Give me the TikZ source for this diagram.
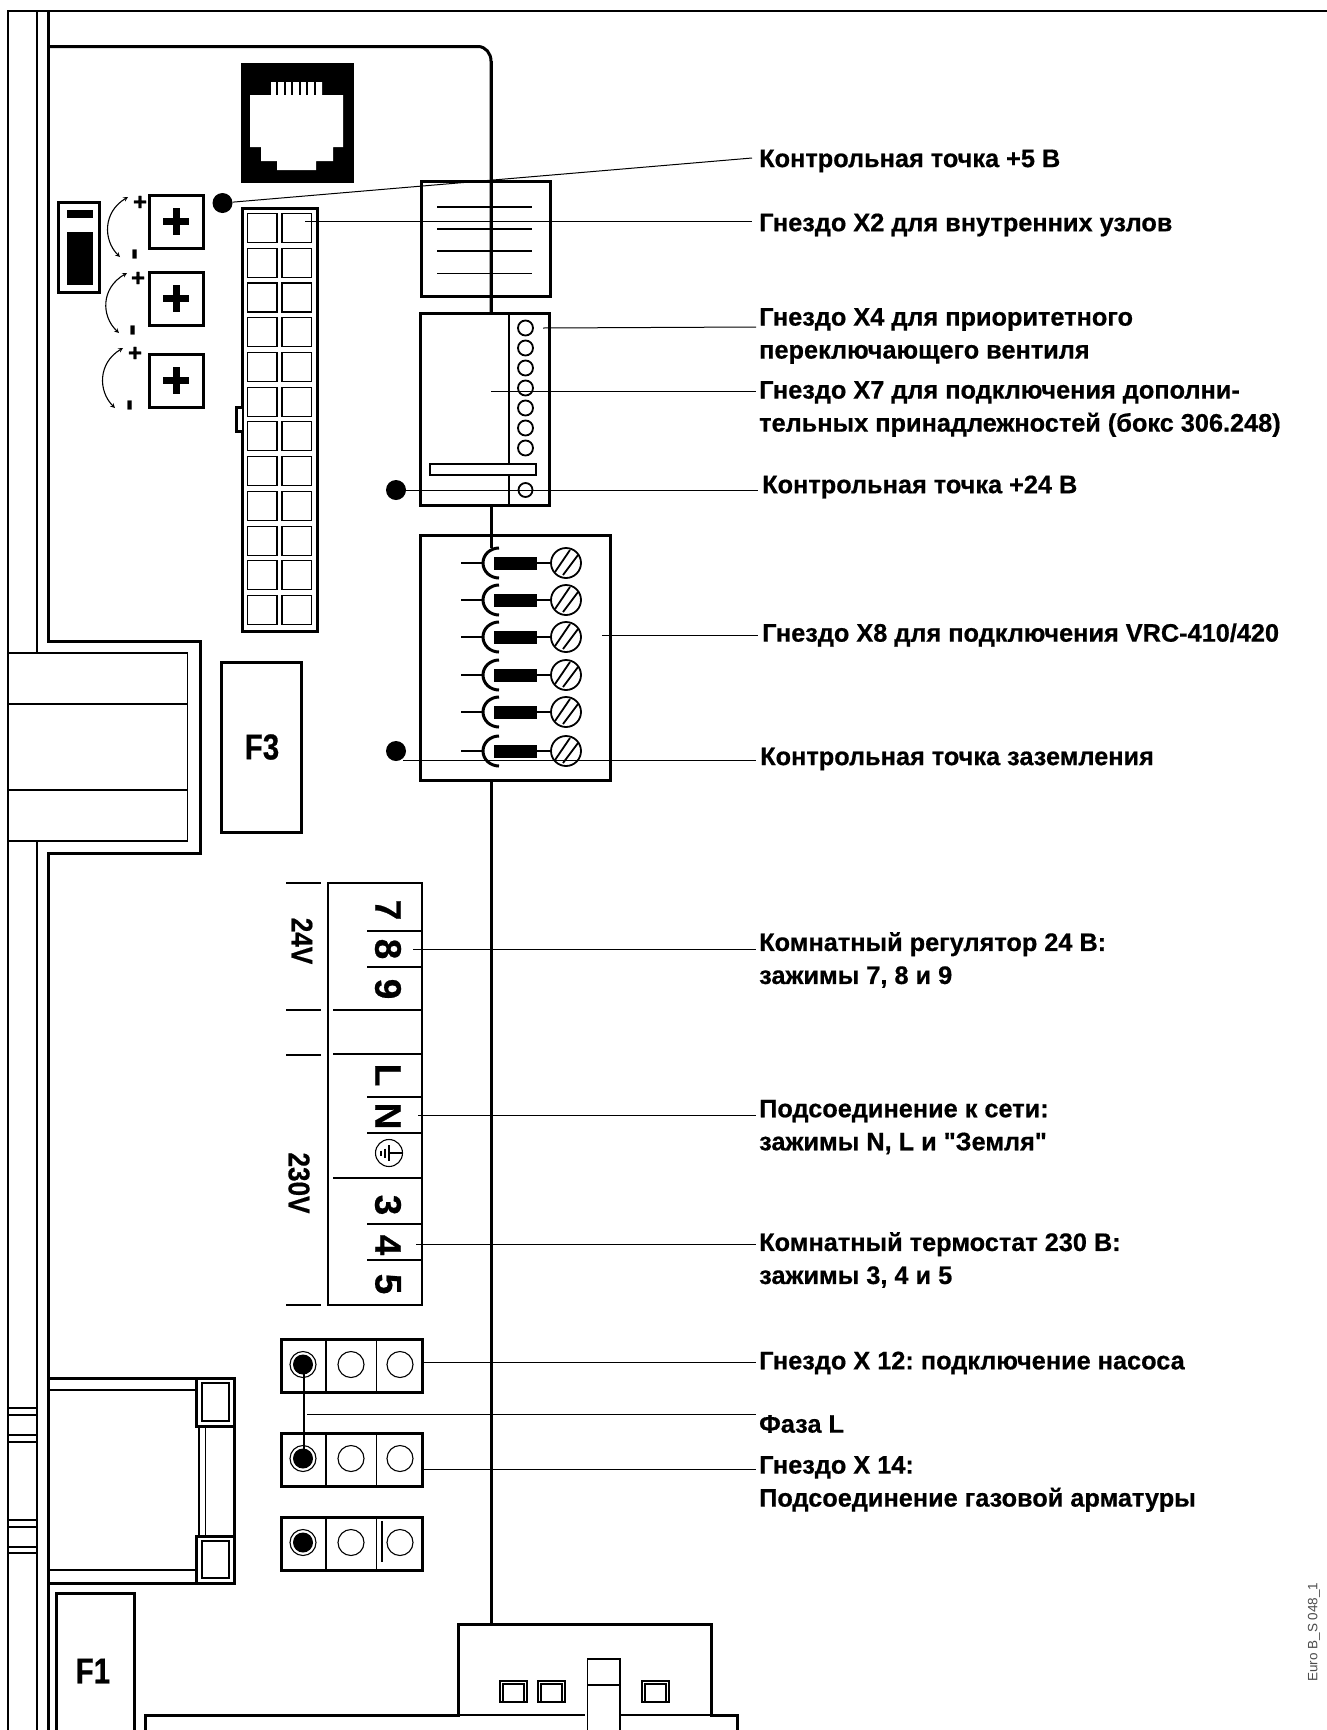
\documentclass[tikz,border=0pt]{standalone}
\usepackage{fontspec}
\setmainfont{Liberation Sans}[BoldFeatures={FakeBold=0.6}]
\newfontfamily\plainfont{Liberation Sans}[BoldFeatures={FakeBold=0.6}]
\usetikzlibrary{positioning}

\begin{document}
\begin{tikzpicture}[x=1pt,y=-1pt]
            \tikzset{
                thickline/.style={line width=3pt},
                midline/.style={line width=1.8pt},
                thinline/.style={line width=1.1pt},
                leader/.style={line width=1pt},
                dotpin/.style={circle, fill=black, inner sep=0pt, minimum size=20pt},
                lbl/.style={anchor=west, align=left, inner sep=0pt, font=\frenchspacing\bfseries\fontsize{25.3}{33}\selectfont},
                termtext/.style={rotate=-90, inner sep=0pt, font=\bfseries\fontsize{37}{37}\selectfont},
                volttext/.style={rotate=-90, inner sep=0pt, xscale=0.87, font=\bfseries\fontsize{30}{30}\selectfont},
                fusetext/.style={inner sep=0pt, xscale=0.82, font=\bfseries\fontsize{36}{36}\selectfont},
                signtext/.style={inner sep=0pt, font=\bfseries\fontsize{24}{24}\selectfont},
                minustext/.style={rotate=90, inner sep=0pt, font=\bfseries\fontsize{34}{34}\selectfont},
            }

            \useasboundingbox (0,0) rectangle (1327,1730);

            \draw[midline] (8,1730) -- (8,11) -- (1327,11);
            \draw[thinline] (37,11) -- (37,653);
            \draw[thinline] (37,841) -- (37,1730);
            \draw[thickline] (48.5,1730) -- (48.5,853) -- (200,853) -- (200,641) -- (48.5,641) -- (48.5,11);
            \draw[thickline] (48.5,46.5) -- (478,46.5) to[out=0,in=90] (491,61) -- (491,313);
            \draw[thickline] (491,505) -- (491,548);
            \draw[thickline] (491,780) -- (491,1624);

            \draw[thinline] (8,653) rectangle (187.5,841);
            \draw[thinline] (8,704) -- (187.5,704);
            \draw[thinline] (8,790) -- (187.5,790);
            \draw[thickline] (221.5,662) rectangle (301,832);
            \node[fusetext] (fuseThree) at (262,747) {F3};

            \draw[fill=black] (241,63) rectangle (353,182);
            \fill[white] (271,82) -- (322,82) -- (322,95) -- (343,95) -- (343,147) -- (333,147) -- (333,161) -- (316,161) -- (316,170) -- (277,170) -- (277,161) -- (261,161) -- (261,147) -- (250,147) -- (250,95) -- (271,95) -- cycle;
            \foreach \tx in {277,285,292,300,307,315} {
                \draw[black, line width=2.4pt] (\tx,82) -- (\tx,95);
            }

            \draw[thickline] (58.5,202) rectangle (99,292);
            \fill (67,210) rectangle (93,218);
            \fill (67,232) rectangle (93,285);

            \foreach \py/\ay/\ax/\bx/\sx in {195/197/128/103/140, 272/273/127/101/138, 354/348/123/98/135} {
                \draw[thickline] (149,\py) rectangle (203,\py+53);
                \fill (163,\py+23) rectangle (189,\py+30);
                \fill (172.5,\py+13) rectangle (179.5,\py+40);
                \draw[thinline, stealth-stealth] (\ax,\ay) .. controls (\bx,\ay+15) and (\bx,\ay+43) .. (\ax-8,\ay+60);
                \node[signtext] at (\sx,\ay+6) {+};
                \node[minustext] at (\sx-2,\ay+57) {-};
            }

            \draw[thickline] (242,208) rectangle (317,631);
            \draw[thickline, fill=white] (242,407) -- (236,407) -- (236,431) -- (242,431);
            \foreach \row in {0,...,11} {
                \draw[thinline] (247.5,213.5+\row*34.73) rectangle (277,242.5+\row*34.73);
                \draw[thinline] (282,213.5+\row*34.73) rectangle (311.5,242.5+\row*34.73);
            }

            \node[dotpin] (dotFive) at (222.5,203) {};
            \node[dotpin] (dotTwentyFour) at (396,490) {};
            \node[dotpin] (dotGround) at (396,751) {};

            \draw[thickline] (421,181) rectangle (550,296);
            \foreach \ly in {207,229,251,273.5} {
                \draw[thinline] (437,\ly) -- (532,\ly);
            }
            \draw[thickline] (491,61) -- (491,313);

            \draw[thickline] (420,313) rectangle (549,505);
            \draw[thinline] (509,313) -- (509,507);
            \foreach \cy in {328,348,368,388,408,428,448} {
                \draw[midline] (525.5,\cy) circle (7.5);
            }
            \draw[midline] (525.5,490) circle (7);
            \draw[thinline, fill=white] (430,464) rectangle (536,475);

            \draw[thickline] (420,535.5) rectangle (610,780);
            \foreach \fy in {563,600,637,675,712,751} {
                \draw[midline] (461,\fy) -- (483,\fy);
                \draw[thickline] (499,\fy-15) to[out=180,in=90] (483,\fy) to[out=-90,in=180] (499,\fy+15);
                \fill (494,\fy-6.5) rectangle (537,\fy+6.5);
                \draw[midline] (537,\fy) -- (551,\fy);
                \draw[midline] (566,\fy) circle (15);
                \draw[midline] (555,\fy+9) -- (570,\fy-13);
                \draw[midline] (563,\fy+12) -- (578,\fy-8);
            }

            \draw[midline] (328,883) rectangle (422,1305);
            \foreach \ty in {883,1010,1055,1305} {
                \draw[thinline] (286,\ty) -- (321,\ty);
            }
            \foreach \ty in {1010,1054,1178} {
                \draw[thinline] (333,\ty) -- (422,\ty);
            }
            \foreach \ty in {931,967,1097,1133,1224,1260} {
                \draw[thinline] (367,\ty) -- (422,\ty);
            }
            \node[termtext] (termSeven) at (388,910) {7};
            \node[termtext] (termEight) at (388,949) {8};
            \node[termtext] (termNine) at (388,989) {9};
            \node[termtext] (termL) at (388,1075) {L};
            \node[termtext] (termN) at (388,1116) {N};
            \node[termtext] (termThree) at (388,1205) {3};
            \node[termtext] (termFour) at (388,1245) {4};
            \node[termtext] (termFive) at (388,1284) {5};
            \draw[thinline] (389,1153) circle (13.5);
            \draw[thinline] (389,1153) -- (402.5,1153);
            \draw[thinline] (389,1145) -- (389,1161);
            \draw[thinline] (385,1148.5) -- (385,1157.5);
            \draw[thinline] (381,1150.5) -- (381,1155.5);
            \node[volttext] (voltLow) at (302,941) {24V};
            \node[volttext] (voltHigh) at (299,1183) {230V};

            \foreach \ry in {1339,1433,1517} {
                \draw[thickline] (281.6,\ry) rectangle (422,\ry+53.5);
                \draw[thinline] (326,\ry) -- (326,\ry+53.5);
                \draw[thinline] (376.6,\ry) -- (376.6,\ry+53.5);
                \draw[thinline] (303,\ry+25.5) circle (13);
                \fill (303,\ry+25.5) circle (10);
                \draw[thinline] (351,\ry+25.5) circle (13);
                \draw[thinline] (400,\ry+25.5) circle (13);
            }
            \draw[thinline] (304,1364) -- (304,1458);
            \draw[thinline] (382,1521) -- (382,1562);

            \draw[thickline] (48.5,1378) rectangle (234.6,1583);
            \draw[thinline] (48.5,1390) -- (196,1390);
            \draw[thinline] (48.5,1570) -- (196,1570);
            \draw[thickline] (196,1378) rectangle (234.6,1426);
            \draw[thickline] (196,1536) rectangle (234.6,1583);
            \draw[thinline] (202,1383) rectangle (229,1421);
            \draw[thinline] (202,1541) rectangle (229,1578);
            \draw[thinline] (199,1426) -- (199,1536);
            \draw[thinline] (205.5,1426) -- (205.5,1536);
            \foreach \my in {1408,1415,1435,1442,1520,1527,1547,1553} {
                \draw[thinline] (8,\my) -- (37,\my);
            }

            \draw[thickline] (56,1730) -- (56,1593) -- (134,1593) -- (134,1730);
            \node[fusetext] (fuseOne) at (93,1671) {F1};

            \draw[thickline] (145.4,1730) -- (145.4,1715) -- (458,1715) -- (458,1624) -- (711,1624) -- (711,1715) -- (737,1715) -- (737,1730);
            \draw[thinline] (458,1715) -- (585,1715);
            \draw[thinline] (621,1715) -- (711,1715);
            \draw[thinline] (587.5,1730) -- (587.5,1659) -- (620,1659) -- (620,1730);
            \draw[thinline] (587.5,1685) -- (620,1685);
            \foreach \sq in {500,538,642} {
                \draw[thinline] (\sq,1681) rectangle (\sq+27,1702);
                \draw[thinline] (\sq+3,1684) rectangle (\sq+24,1702);
            }

            \coordinate (pinX2) at (305,221);
            \coordinate (pinX4) at (543,328);
            \coordinate (pinX7) at (491,391);
            \coordinate (pinX8) at (602,635);
            \coordinate (pinRoom) at (413,949);
            \coordinate (pinMains) at (418,1115);
            \coordinate (pinThermo) at (416,1244);
            \coordinate (pinX12) at (422,1362);
            \coordinate (pinPhase) at (307,1414);
            \coordinate (pinX14) at (422,1469);
            \coordinate (groundStart) at (403,760);

            \coordinate (endFive) at (752,158);
            \coordinate (endX2) at (752,221);
            \coordinate (endX4) at (756,327);
            \coordinate (endX7) at (756,391);
            \coordinate (endTwentyFour) at (758,490);
            \coordinate (endX8) at (758,635);
            \coordinate (endGround) at (756,760);
            \coordinate (endRoom) at (756,949);
            \coordinate (endMains) at (756,1115);
            \coordinate (endThermo) at (756,1244);
            \coordinate (endX12) at (756,1362);
            \coordinate (endPhase) at (756,1414);
            \coordinate (endX14) at (756,1469);

            \draw[leader] (dotFive) -- (endFive);
            \draw[leader] (pinX2) -- (endX2);
            \draw[leader] (pinX4) -- (endX4);
            \draw[leader] (pinX7) -- (endX7);
            \draw[leader] (dotTwentyFour) -- (endTwentyFour);
            \draw[leader] (pinX8) -- (endX8);
            \draw[leader] (groundStart) -- (endGround);
            \draw[leader] (pinRoom) -- (endRoom);
            \draw[leader] (pinMains) -- (endMains);
            \draw[leader] (pinThermo) -- (endThermo);
            \draw[leader] (pinX12) -- (endX12);
            \draw[leader] (pinPhase) -- (endPhase);
            \draw[leader] (pinX14) -- (endX14);

            \node[lbl] (lblFive) at (759,161) {Контрольная точка +5 В};
            \node[lbl] (lblX2) at (759,225) {Гнездо X2 для внутренних узлов};
            \node[lbl] (lblX4) at (759,336) {Гнездо X4 для приоритетного\\переключающего вентиля};
            \node[lbl] (lblX7) at (759,409) {Гнездо X7 для подключения дополни-\\тельных принадлежностей (бокс 306.248)};
            \node[lbl] (lblTwentyFour) at (762,487) {Контрольная точка +24 В};
            \node[lbl] (lblX8) at (762,635) {Гнездо X8 для подключения VRC-410/420};
            \node[lbl] (lblGround) at (760,759) {Контрольная точка заземления};
            \node[lbl] (lblRoom) at (759,960) {Комнатный регулятор 24 В:\\зажимы 7, 8 и 9};
            \node[lbl] (lblMains) at (759,1127) {Подсоединение к сети:\\зажимы N, L и {\plainfont"Земля"}};
            \node[lbl] (lblThermo) at (759,1260) {Комнатный термостат 230 В:\\зажимы 3, 4 и 5};
            \node[lbl] (lblX12) at (759,1363) {Гнездо X 12: подключение насоса};
            \node[lbl] (lblPhase) at (759,1424) {Фаза L};
            \node[lbl] (lblX14) at (759,1484) {Гнездо X 14:\\Подсоединение газовой арматуры};

            \node[rotate=90, inner sep=0pt, font=\plainfont\fontsize{13.5}{13.5}\selectfont, text=black!70] (codeMark) at (1314,1632) {Euro B\_S 048\_1};
        \end{tikzpicture}
\end{document}
